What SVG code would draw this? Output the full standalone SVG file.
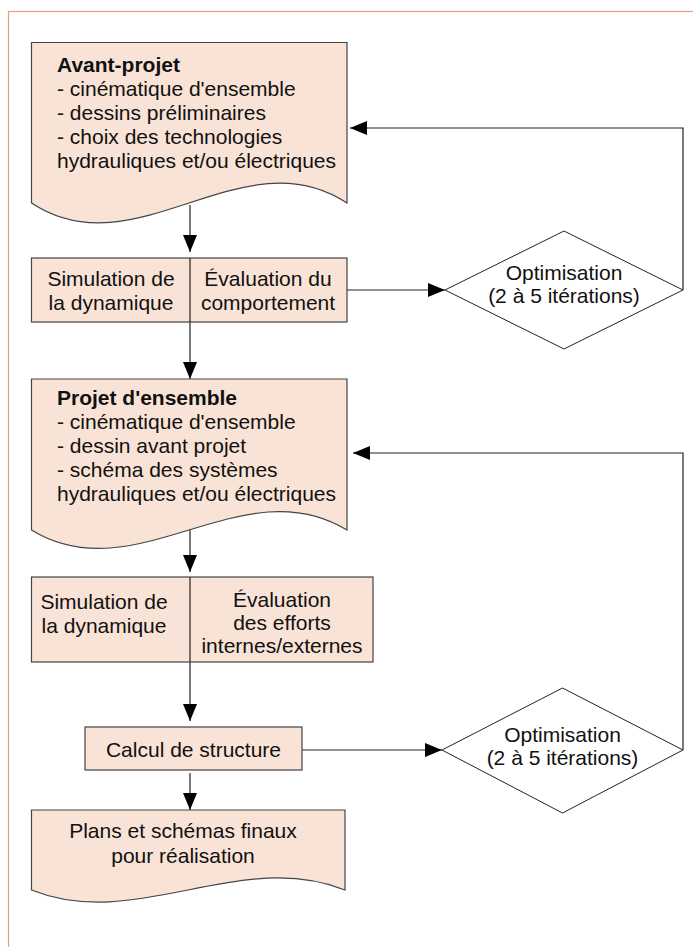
<svg xmlns="http://www.w3.org/2000/svg" width="693" height="947" viewBox="0 0 693 947">
<style>
.n{fill:#f9e3d6;stroke:#444;stroke-width:1.2}
.d{fill:#fff;stroke:#222;stroke-width:1}
.t{font-family:"Liberation Sans",Arial,sans-serif;font-size:21px;fill:#111}
.c{text-anchor:middle}
.b{font-weight:bold}
.e{fill:none;stroke:#222;stroke-width:1.2}
</style>
<defs>
<marker id="ah" markerUnits="userSpaceOnUse" markerWidth="18" markerHeight="14" refX="17" refY="7" orient="auto">
<path d="M0,0 L17,7 L0,14 Z" fill="#000"/>
</marker>
</defs>
<rect x="8.5" y="11.5" width="700" height="950" fill="none" stroke="#eb9a7f" stroke-width="1.2"/>
<g id="connectors">
<path class="e" d="M190,205 V252" marker-end="url(#ah)"/>
<path class="e" d="M190,322 V379" marker-end="url(#ah)"/>
<path class="e" d="M347,290 H445" marker-end="url(#ah)"/>
<path class="e" d="M683,290 V128 H350" marker-end="url(#ah)"/>
<path class="e" d="M190,524 V572" marker-end="url(#ah)"/>
<path class="e" d="M683,750 V453 H353" marker-end="url(#ah)"/>
<path class="e" d="M190,662 V721" marker-end="url(#ah)"/>
<path class="e" d="M302,750 H442" marker-end="url(#ah)"/>
<path class="e" d="M190,773 V810" marker-end="url(#ah)"/>
</g>
<g id="avant-projet">
<path class="n" d="M31.5,42.5 H347 V203 C242,134 136,272 31.5,203 Z"/>
<text class="t b" x="57" y="72">Avant-projet</text>
<text class="t" x="57" y="96">- cinématique d'ensemble</text>
<text class="t" x="57" y="120">- dessins préliminaires</text>
<text class="t" x="57" y="144">- choix des technologies</text>
<text class="t" x="57" y="168">hydrauliques et/ou électriques</text>
</g>
<g id="simulation-1">
<rect class="n" x="31.5" y="258" width="315.5" height="64"/>
<line x1="190" y1="258" x2="190" y2="322" stroke="#222" stroke-width="1.2"/>
<text class="t c" x="111" y="286">Simulation de</text>
<text class="t c" x="111" y="310">la dynamique</text>
<text class="t c" x="268" y="286">Évaluation du</text>
<text class="t c" x="268" y="310">comportement</text>
</g>
<g id="optimisation-1">
<polygon class="d" points="564,231 683,290 564,349 445,290"/>
<text class="t c" x="564" y="280">Optimisation</text>
<text class="t c" x="564" y="303">(2 à 5 itérations)</text>
</g>
<g id="projet-ensemble">
<path class="n" d="M31.5,379 H347 V530 C242,466 136,594 31.5,530 Z"/>
<text class="t b" x="57" y="405">Projet d'ensemble</text>
<text class="t" x="57" y="429">- cinématique d'ensemble</text>
<text class="t" x="57" y="453">- dessin avant projet</text>
<text class="t" x="57" y="477">- schéma des systèmes</text>
<text class="t" x="57" y="501">hydrauliques et/ou électriques</text>
</g>
<g id="simulation-2">
<rect class="n" x="31.5" y="577" width="341.5" height="85"/>
<line x1="190" y1="577" x2="190" y2="662" stroke="#222" stroke-width="1.2"/>
<text class="t c" x="104" y="609">Simulation de</text>
<text class="t c" x="104" y="633">la dynamique</text>
<text class="t c" x="282" y="607">Évaluation</text>
<text class="t c" x="282" y="630">des efforts</text>
<text class="t c" x="282" y="653">internes/externes</text>
</g>
<g id="calcul-structure">
<rect class="n" x="85" y="727" width="217" height="43"/>
<text class="t c" x="193.5" y="757">Calcul de structure</text>
</g>
<g id="optimisation-2">
<polygon class="d" points="562.5,688 683,750 562.5,813 442,750"/>
<text class="t c" x="562.5" y="742">Optimisation</text>
<text class="t c" x="562.5" y="765">(2 à 5 itérations)</text>
</g>
<g id="plans-finaux">
<path class="n" d="M31.5,810 H345 V890 C240,848 136,932 31.5,890 Z"/>
<text class="t c" x="183" y="838">Plans et schémas finaux</text>
<text class="t c" x="183" y="863">pour réalisation</text>
</g>
</svg>
